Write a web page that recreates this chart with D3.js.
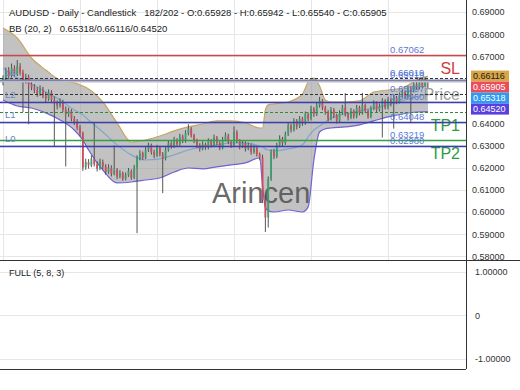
<!DOCTYPE html>
<html>
<head>
<meta charset="utf-8">
<script src="https://cdn.jsdelivr.net/npm/d3@7"></script>
<style>
  body { margin: 0; background: #fff; }
  svg { display: block; font-family: "Liberation Sans", Arial, sans-serif; }
</style>
</head>
<body>
<div id="chart"></div>
<script>
// daily candles: [open, high, low, close]
const candles = [
  [0.6580,0.6615,0.6570,0.6600],[0.6600,0.6650,0.6592,0.6635],[0.6635,0.6652,0.6598,0.6612],[0.6612,0.6668,0.6605,0.6648],
  [0.6648,0.6660,0.6610,0.6620],[0.6620,0.6684,0.6612,0.6655],[0.6655,0.6670,0.6615,0.6628],[0.6628,0.6640,0.6450,0.6590],
  [0.6590,0.6622,0.6578,0.6605],[0.6605,0.6618,0.6395,0.6575],[0.6575,0.6590,0.6548,0.6560],[0.6560,0.6575,0.6535,0.6548],
  [0.6548,0.6562,0.6518,0.6530],[0.6530,0.6570,0.6522,0.6552],[0.6552,0.6563,0.6512,0.6525],[0.6525,0.6540,0.6495,0.6510],
  [0.6510,0.6552,0.6500,0.6538],[0.6538,0.6548,0.6490,0.6505],[0.6505,0.6520,0.6295,0.6490],[0.6490,0.6502,0.6462,0.6478],
  [0.6478,0.6512,0.6470,0.6495],[0.6495,0.6505,0.6450,0.6462],[0.6462,0.6475,0.6205,0.6440],[0.6440,0.6470,0.6428,0.6455],
  [0.6455,0.6463,0.6408,0.6420],[0.6420,0.6432,0.6392,0.6405],[0.6405,0.6418,0.6368,0.6380],[0.6380,0.6392,0.6340,0.6355],
  [0.6355,0.6362,0.6185,0.6200],[0.6200,0.6240,0.6190,0.6225],[0.6225,0.6238,0.6195,0.6210],[0.6210,0.6255,0.6202,0.6240],
  [0.6240,0.6405,0.6205,0.6215],[0.6215,0.6228,0.6182,0.6195],[0.6195,0.6240,0.6188,0.6225],[0.6225,0.6236,0.6192,0.6205],
  [0.6205,0.6215,0.6168,0.6180],[0.6180,0.6215,0.6172,0.6200],[0.6200,0.6210,0.6160,0.6172],[0.6172,0.6300,0.6165,0.6190],
  [0.6190,0.6198,0.6148,0.6160],[0.6160,0.6188,0.6152,0.6175],[0.6175,0.6182,0.6140,0.6150],[0.6150,0.6178,0.6142,0.6165],
  [0.6165,0.6198,0.6158,0.6185],[0.6185,0.6192,0.6145,0.6155],[0.6155,0.6212,0.6148,0.6200],[0.6200,0.6255,0.5905,0.6240],
  [0.6240,0.6278,0.6232,0.6265],[0.6265,0.6272,0.6235,0.6245],[0.6245,0.6292,0.6238,0.6280],[0.6280,0.6312,0.6270,0.6300],
  [0.6300,0.6308,0.6258,0.6270],[0.6270,0.6280,0.6242,0.6255],[0.6255,0.6302,0.6248,0.6290],[0.6290,0.6298,0.6250,0.6260],
  [0.6260,0.6270,0.6085,0.6240],[0.6240,0.6292,0.6232,0.6280],[0.6280,0.6322,0.6272,0.6310],[0.6310,0.6318,0.6285,0.6295],
  [0.6295,0.6338,0.6288,0.6325],[0.6325,0.6332,0.6295,0.6305],[0.6305,0.6352,0.6298,0.6340],[0.6340,0.6348,0.6310,0.6320],
  [0.6320,0.6368,0.6312,0.6355],[0.6355,0.6395,0.6345,0.6375],[0.6375,0.6382,0.6335,0.6345],[0.6345,0.6352,0.6310,0.6320],
  [0.6320,0.6330,0.6288,0.6300],[0.6300,0.6310,0.6272,0.6285],[0.6285,0.6318,0.6278,0.6305],[0.6305,0.6312,0.6280,0.6290],
  [0.6290,0.6332,0.6282,0.6320],[0.6320,0.6328,0.6290,0.6300],[0.6300,0.6348,0.6292,0.6335],[0.6335,0.6342,0.6300,0.6310],
  [0.6310,0.6318,0.6278,0.6290],[0.6290,0.6338,0.6282,0.6325],[0.6325,0.6358,0.6318,0.6345],[0.6345,0.6352,0.6305,0.6315],
  [0.6315,0.6322,0.6288,0.6300],[0.6300,0.6385,0.6292,0.6360],[0.6360,0.6368,0.6310,0.6320],[0.6320,0.6328,0.6282,0.6295],
  [0.6295,0.6322,0.6288,0.6310],[0.6310,0.6318,0.6272,0.6285],[0.6285,0.6312,0.6278,0.6300],[0.6300,0.6308,0.6258,0.6270],
  [0.6270,0.6302,0.6262,0.6290],[0.6290,0.6298,0.6250,0.6260],[0.6260,0.6268,0.6232,0.6245],[0.6245,0.6258,0.6040,0.6055],
  [0.6055,0.6078,0.5910,0.5975],[0.5975,0.6160,0.5930,0.6150],[0.6150,0.6282,0.6140,0.6270],[0.6270,0.6285,0.6238,0.6250],
  [0.6250,0.6312,0.6242,0.6300],[0.6300,0.6345,0.6292,0.6330],[0.6330,0.6338,0.6295,0.6310],[0.6310,0.6362,0.6302,0.6350],
  [0.6350,0.6402,0.6342,0.6390],[0.6390,0.6398,0.6358,0.6370],[0.6370,0.6422,0.6362,0.6410],[0.6410,0.6418,0.6372,0.6385],
  [0.6385,0.6432,0.6378,0.6420],[0.6420,0.6428,0.6388,0.6400],[0.6400,0.6452,0.6392,0.6440],[0.6440,0.6448,0.6408,0.6420],
  [0.6420,0.6478,0.6412,0.6465],[0.6465,0.6472,0.6428,0.6440],[0.6440,0.6492,0.6432,0.6480],[0.6480,0.6518,0.6470,0.6500],
  [0.6500,0.6508,0.6458,0.6470],[0.6470,0.6478,0.6438,0.6450],[0.6450,0.6458,0.6408,0.6420],[0.6420,0.6472,0.6412,0.6460],
  [0.6460,0.6468,0.6422,0.6435],[0.6435,0.6442,0.6398,0.6410],[0.6410,0.6458,0.6402,0.6445],[0.6445,0.6482,0.6438,0.6470],
  [0.6470,0.6535,0.6430,0.6440],[0.6440,0.6448,0.6412,0.6425],[0.6425,0.6468,0.6418,0.6455],[0.6455,0.6462,0.6420,0.6430],
  [0.6430,0.6482,0.6422,0.6470],[0.6470,0.6478,0.6435,0.6445],[0.6445,0.6536,0.6438,0.6480],[0.6480,0.6488,0.6445,0.6455],
  [0.6455,0.6462,0.6420,0.6430],[0.6430,0.6478,0.6422,0.6465],[0.6465,0.6502,0.6458,0.6490],[0.6490,0.6498,0.6450,0.6460],
  [0.6460,0.6488,0.6452,0.6475],[0.6475,0.6512,0.6335,0.6500],[0.6500,0.6508,0.6462,0.6470],[0.6470,0.6518,0.6462,0.6505],
  [0.6505,0.6512,0.6475,0.6485],[0.6485,0.6528,0.6375,0.6515],[0.6515,0.6522,0.6485,0.6495],[0.6495,0.6538,0.6488,0.6525],
  [0.6525,0.6552,0.6515,0.6540],[0.6540,0.6548,0.6510,0.6520],[0.6520,0.6568,0.6512,0.6555],[0.6555,0.6562,0.6400,0.6545],
  [0.6545,0.6588,0.6538,0.6575],[0.6575,0.6585,0.6550,0.6560],[0.6560,0.6605,0.6552,0.6590],[0.6590,0.6598,0.6558,0.6570],
  [0.6570,0.6606,0.6562,0.6593],[0.65928,0.65942,0.65540,0.65905]
];

// Bollinger band (20, 2) read at these candle numbers
const bbIdx = [0,5,10,15,20,25,28,30,35,40,45,50,55,60,65,70,75,80,85,90,91,92,93,95,100,105,107,109,111,113,115,120,125,130,135,140,145,149];
const bbUpper = [0.6828,0.6783,0.6693,0.6639,0.6594,0.6581,0.6567,0.6554,0.6495,0.6401,0.6315,0.6324,0.6342,0.6365,0.6383,0.6396,0.6410,0.6410,0.6401,0.6378,
  0.6378,0.6459,0.6482,0.6486,0.6495,0.6531,0.6585,0.6603,0.6567,0.6504,0.6495,0.6495,0.6500,0.6540,0.6549,0.6558,0.6594,0.66116];
const bbMid = [0.6648,0.6603,0.6576,0.6540,0.6504,0.6459,0.6437,0.6414,0.6360,0.6302,0.6257,0.6234,0.6239,0.6257,0.6279,0.6293,0.6302,0.6311,0.6311,0.6297,
  0.6293,0.6284,0.6279,0.6275,0.6284,0.6302,0.6338,0.6369,0.6387,0.6405,0.6423,0.6441,0.6455,0.6468,0.6482,0.6500,0.6518,0.65318];
const bbLower = [0.6504,0.6477,0.6468,0.6446,0.6414,0.6369,0.6324,0.6279,0.6189,0.6131,0.6135,0.6144,0.6153,0.6180,0.6198,0.6194,0.6203,0.6212,0.6221,0.6243,
  0.6120,0.6020,0.6005,0.6000,0.6009,0.6000,0.6023,0.6234,0.6360,0.6374,0.6378,0.6383,0.6392,0.6410,0.6428,0.6441,0.6450,0.64520];

const priceTicks = [0.69,0.68,0.67,0.66,0.65,0.64,0.63,0.62,0.61,0.60,0.59,0.58];
const oscTicks = [1, 0, -1];
const gridIdx = [0,27,54,81,108,135];

// trade levels and pivot lines
const levelNames  = ["SL","E1","L3","Price","E2","L2","TP1","L1","TP2","L0"];
const levelValues = [0.67062,0.66019,0.65919,0.65905,0.65297,0.64960,0.64514,0.64048,0.63219,0.62980];

// last values shown on the price axis
const badgeNames  = ["upper","close","middle","lower"];
const badgeValues = [0.66116,0.65905,0.65318,0.64520];

const W = 520, H = 390, plotR = 466, mainB = 260, oscT = 261, oscB = 369;
const fmt5 = d3.format(".5f");

const lineStyle = {
  SL:    { stroke: "#cc4848", w: 1.3, dash: null, tag: "#d23b3b", value: true },
  E1:    { stroke: "#333",    w: 1.1, dash: "3,2", value: true },
  L3:    { stroke: "#3a3fb0", w: 1.5, dash: null, value: true, left: true },
  Price: { stroke: "#bdbdbd", w: 2,   dash: null, tag: "#9a9a9a", value: false },
  E2:    { stroke: "#333",    w: 1.1, dash: "3,2", value: true },
  L2:    { stroke: "#3a3fb0", w: 1.5, dash: null, value: true, left: true },
  TP1:   { stroke: "#2e8b3a", w: 1.2, dash: "3,2", tag: "#2e9a3e", value: false },
  L1:    { stroke: "#3a3fb0", w: 1.5, dash: null, value: true, left: true },
  TP2:   { stroke: "#3a9a45", w: 1.3, dash: null, tag: "#2e9a3e", value: true },
  L0:    { stroke: "#3a3fb0", w: 1.5, dash: null, value: true, left: true }
};
const badgeStyle = {
  upper:  { fill: "#d9a545", text: "#222" },
  close:  { fill: "#ec4b5c", text: "#fff" },
  middle: { fill: "#2f9bf0", text: "#fff" },
  lower:  { fill: "#5a3fe0", text: "#fff" }
};

const svg = d3.select("#chart").append("svg").attr("width", W).attr("height", H);

const x = d3.scaleLinear().domain([0, 162]).range([3, 3 + 162 * 2.852]);
const y = d3.scaleLinear().domain([0.5784, 0.6954]).range([mainB, 0]);
const yo = d3.scaleLinear().domain([-1.25, 1.25]).range([oscB + 0.5, oscT]);

svg.append("defs").append("clipPath").attr("id", "clipMain")
  .append("rect").attr("x", 0).attr("y", 0).attr("width", plotR).attr("height", mainB);

// grid
const grid = svg.append("g").attr("stroke", "#e6e6e6").attr("stroke-width", 1);
grid.selectAll(".hg").data(priceTicks).enter().append("line")
  .attr("x1", 0).attr("x2", plotR)
  .attr("y1", d => Math.round(y(d)) + 0.5).attr("y2", d => Math.round(y(d)) + 0.5);
grid.selectAll(".vg").data(gridIdx).enter().append("line")
  .attr("x1", d => Math.round(x(d)) + 0.5).attr("x2", d => Math.round(x(d)) + 0.5)
  .attr("y1", 0).attr("y2", mainB);
grid.selectAll(".og").data(oscTicks).enter().append("line")
  .attr("x1", 0).attr("x2", plotR)
  .attr("y1", d => Math.round(yo(d)) + 0.5).attr("y2", d => Math.round(yo(d)) + 0.5);

const main = svg.append("g").attr("clip-path", "url(#clipMain)");

// bollinger band
const band = main.append("g");
band.append("path")
  .datum(bbIdx.map((d, i) => i))
  .attr("fill", "#9a9a9a").attr("fill-opacity", 0.6)
  .attr("d", d3.area().curve(d3.curveMonotoneX)
    .x(i => x(bbIdx[i])).y0(i => y(bbLower[i])).y1(i => y(bbUpper[i])));
[[bbUpper, "#c9a463"], [bbMid, "#7ea7cc"], [bbLower, "#7162d6"]].forEach(([arr, col]) => {
  band.append("path")
    .datum(bbIdx.map((d, i) => i))
    .attr("fill", "none").attr("stroke", col).attr("stroke-width", 1.2)
    .attr("d", d3.line().curve(d3.curveMonotoneX).x(i => x(bbIdx[i])).y(i => y(arr[i])));
});

// watermark
main.append("text")
  .attr("x", 212).attr("y", 203)
  .attr("font-size", 29).attr("fill", "#555").attr("fill-opacity", 0.9)
  .text("Arincen");

// candles
const cg = main.append("g");
const up = "#3a9f6e", down = "#d14b5a";
cg.selectAll(".wick").data(candles).enter().append("line")
  .attr("x1", (d, i) => x(i)).attr("x2", (d, i) => x(i))
  .attr("y1", d => y(d[1])).attr("y2", d => y(d[2]))
  .attr("stroke", "#444").attr("stroke-width", 0.9);
cg.selectAll(".body").data(candles).enter().append("rect")
  .attr("x", (d, i) => x(i) - 0.9).attr("width", 1.8)
  .attr("y", d => y(Math.max(d[0], d[3])))
  .attr("height", d => Math.max(0.8, Math.abs(y(d[0]) - y(d[3]))))
  .attr("fill", d => d[3] >= d[0] ? up : down);

// level lines
const lv = main.append("g");
levelNames.forEach((name, i) => {
  const s = lineStyle[name];
  const yy = Math.round(y(levelValues[i])) + 0.5;
  lv.append("line")
    .attr("x1", 0).attr("x2", plotR).attr("y1", yy).attr("y2", yy)
    .attr("stroke", s.stroke).attr("stroke-width", s.w)
    .attr("stroke-dasharray", s.dash);
  if (s.value) {
    lv.append("text").attr("x", 390).attr("y", yy - 3)
      .attr("font-size", 9.5).attr("fill", "#5b7bd5")
      .text(fmt5(levelValues[i]));
  }
  if (s.left) {
    lv.append("text").attr("x", 5).attr("y", yy - 5)
      .attr("font-size", 9.5).attr("fill", "#6a86c8")
      .text(name);
  }
  if (s.tag) {
    lv.append("text").attr("x", 460).attr("y", yy + 18)
      .attr("text-anchor", "end").attr("font-size", 16).attr("fill", s.tag)
      .text(name);
  }
});

// panel frames
svg.append("line").attr("x1", plotR + 0.5).attr("x2", plotR + 0.5).attr("y1", 0).attr("y2", oscB)
  .attr("stroke", "#333");
svg.append("line").attr("x1", 0).attr("x2", W).attr("y1", mainB + 0.5).attr("y2", mainB + 0.5)
  .attr("stroke", "#333");
svg.append("line").attr("x1", 0).attr("x2", plotR).attr("y1", oscB + 0.5).attr("y2", oscB + 0.5)
  .attr("stroke", "#333");

// last-value badges stack down from the upper band value
const stackTop = y(badgeValues[0]) - 5.5;
const stackBottom = stackTop + 11 * badgeNames.length;

// price axis, labels under the badge stack are left out
const yAxis = d3.axisRight(y).tickValues(priceTicks).tickFormat(fmt5).tickSize(0).tickPadding(6);
svg.append("g").attr("transform", `translate(${plotR},0)`).call(yAxis)
  .call(g => g.select(".domain").remove())
  .call(g => g.selectAll(".tick").filter(d => y(d) > stackTop && y(d) < stackBottom).remove())
  .selectAll("text").attr("font-size", 9).attr("fill", "#333")
  .attr("font-family", "Liberation Sans, Arial, sans-serif");

let badgeTop = stackTop;
badgeNames.forEach((name, i) => {
  const s = badgeStyle[name];
  svg.append("rect").attr("x", 471).attr("y", badgeTop).attr("width", 38).attr("height", 11)
    .attr("fill", s.fill);
  svg.append("text").attr("x", 473).attr("y", badgeTop + 8.8)
    .attr("font-size", 9).attr("fill", s.text).text(fmt5(badgeValues[i]));
  badgeTop += 11;
});

// oscillator axis
const oAxis = d3.axisRight(yo).tickValues(oscTicks)
  .tickFormat(d => d === 0 ? "0" : fmt5(d).replace("\u2212", "-"))
  .tickSize(0).tickPadding(9);
svg.append("g").attr("transform", `translate(${plotR},0)`).call(oAxis)
  .call(g => g.select(".domain").remove())
  .selectAll("text").attr("font-size", 9).attr("fill", "#333")
  .attr("font-family", "Liberation Sans, Arial, sans-serif");

// headers
svg.append("text").attr("x", 9).attr("y", 16).attr("font-size", 9.5).attr("fill", "#222")
  .attr("xml:space", "preserve")
  .text("AUDUSD - Daily - Candlestick   182/202 - O:0.65928 - H:0.65942 - L:0.65540 - C:0.65905");
svg.append("text").attr("x", 9).attr("y", 32).attr("font-size", 9.5).attr("fill", "#222")
  .attr("xml:space", "preserve")
  .text("BB (20, 2)   0.65318/0.66116/0.64520");
svg.append("text").attr("x", 9).attr("y", 276).attr("font-size", 9).attr("fill", "#222")
  .text("FULL (5, 8, 3)");
</script>
</body>
</html>
